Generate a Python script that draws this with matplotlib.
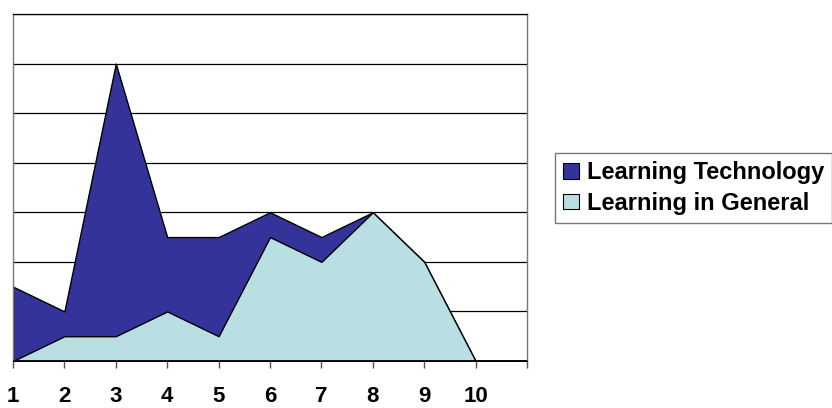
import matplotlib
matplotlib.use("Agg")
import matplotlib.pyplot as plt
from matplotlib.patches import Patch

plt.rcParams['font.family'] = ['Liberation Sans', 'DejaVu Sans']

categories = [1, 2, 3, 4, 5, 6, 7, 8, 9, 10, 11]
tick_labels = ["1", "2", "3", "4", "5", "6", "7", "8", "9", "10", ""]
learning_technology = [1.5, 1.0, 6.0, 2.5, 2.5, 3.0, 2.5, 3.0, 2.0, 0.0, 0.0]
learning_general = [0.0, 0.5, 0.5, 1.0, 0.5, 2.5, 2.0, 3.0, 2.0, 0.0, 0.0]

dark = "#333399"
light = "#BADFE3"

fig = plt.figure(figsize=(8.32, 4.08), dpi=100)
ax = fig.add_axes([13/832, 1 - 361/408, (527 - 13)/832, (361 - 14)/408])

for y in range(1, 8):
    ax.axhline(y, color="black", lw=0.9, zorder=1)

ax.fill_between(categories, 0, learning_technology, facecolor=dark,
                edgecolor="black", lw=1.0, zorder=2)
ax.fill_between(categories, 0, learning_general, facecolor=light,
                edgecolor="black", lw=1.0, zorder=3)
ax.plot(categories, [0]*len(categories), color="black", lw=2.0, zorder=4,
        solid_capstyle="butt")

ax.set_xlim(1, 11)
ax.set_ylim(0, 7)
ax.set_yticks([])
ax.set_xticks(categories)
ax.set_xticklabels(tick_labels, fontsize=16, fontweight="bold")
ax.tick_params(axis="x", length=5, width=1, color="#555555", pad=13, direction="out")

for s in ["left", "right"]:
    ax.spines[s].set_color("#777777")
    ax.spines[s].set_linewidth(1.0)
ax.spines["top"].set_color("black")
ax.spines["top"].set_linewidth(0.9)
ax.spines["bottom"].set_visible(False)

handles = [Patch(facecolor=dark, edgecolor="black", lw=0.8, label="Learning Technology"),
           Patch(facecolor=light, edgecolor="black", lw=0.8, label="Learning in General")]
leg = fig.legend(handles=handles, loc="upper left",
                 bbox_to_anchor=(555/832, 1 - 153/408), frameon=True,
                 fancybox=False, edgecolor="#555555",
                 prop={"size": 17, "weight": "bold"},
                 handlelength=0.65, handleheight=0.65, handletextpad=0.35,
                 borderpad=0.35, labelspacing=0.32, borderaxespad=0)
leg.get_frame().set_linewidth(1.0)

fig.savefig("out.png", dpi=100)
